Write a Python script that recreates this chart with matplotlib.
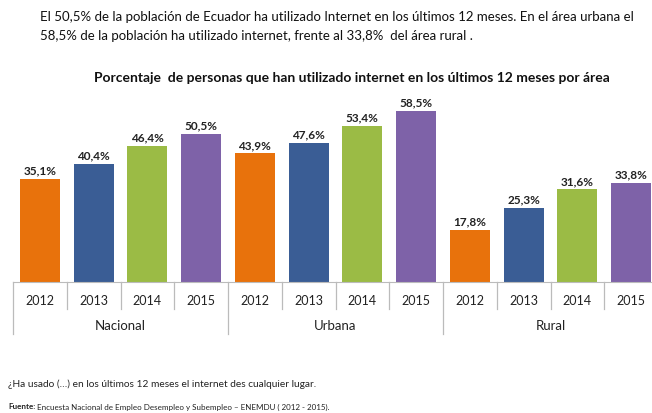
import matplotlib.pyplot as plt

areas = ["Nacional", "Urbana", "Rural"]
years = ["2012", "2013", "2014", "2015"]
nacional = [35.1, 40.4, 46.4, 50.5]
urbana = [43.9, 47.6, 53.4, 58.5]
rural = [17.8, 25.3, 31.6, 33.8]
colores = ["#E8720C", "#3A5D95", "#9BBB45", "#7E62A8"]

plt.rcParams["font.family"] = ["Lato", "DejaVu Sans"]

W, H = 652, 414
fig = plt.figure(figsize=(W / 100, H / 100), dpi=100)
# axes placed in pixel terms: left 13, baseline at y=283, right edge beyond the image
ax = fig.add_axes([13 / W, (H - 283) / H, 645 / W, 205 / H])

valores = nacional + urbana + rural
x = list(range(len(valores)))
cols = colores * 3
ax.bar(x, valores, width=0.74, color=cols, zorder=2)
for xi, v in zip(x, valores):
    ax.text(xi, v + 1.2, f"{v:.1f}%".replace(".", ","), ha="center", va="bottom",
            fontsize=8.5, fontweight="bold", color="#222222")

ax.set_xlim(-0.5, 11.5)
ax.set_ylim(0, 70)
for s in ["top", "right", "left"]:
    ax.spines[s].set_visible(False)
ax.spines["bottom"].set_color("#BBBBBB")
ax.set_yticks([])
ax.set_xticks([])

# category separators
for i in range(13):
    largo = -17.7 if i % 4 == 0 else -9.2
    ax.plot([i - 0.5, i - 0.5], [0, largo], color="#BBBBBB", lw=0.9, clip_on=False)
for xi in x:
    ax.text(xi, -6.3, years[xi % 4], ha="center", va="center", fontsize=9, color="#222222")
for g, area in enumerate(areas):
    ax.text(g * 4 + 1.5, -14.8, area, ha="center", va="center", fontsize=9.5, color="#222222")

fig.text(40 / W, 1 - 17 / H, "El 50,5% de la población de Ecuador ha utilizado Internet en los últimos 12 meses. En el área urbana el",
         fontsize=9.5, va="center", color="#111111")
fig.text(40 / W, 1 - 36 / H, "58,5% de la población ha utilizado internet, frente al 33,8%  del área rural .",
         fontsize=9.5, va="center", color="#111111")
fig.text(352 / W, 1 - 78 / H, "Porcentaje  de personas que han utilizado internet en los últimos 12 meses por área",
         fontsize=10, fontweight="bold", ha="center", va="center", color="#111111")
fig.text(8 / W, 1 - 384 / H, "¿Ha usado (…) en los últimos 12 meses el internet des cualquier lugar.",
         fontsize=7.3, va="center", color="#222222")
t = fig.text(8 / W, 1 - 407 / H, "Fuente:", fontsize=5.8, fontweight="bold", va="center", color="#222222")
ax.annotate(" Encuesta Nacional de Empleo Desempleo y Subempleo – ENEMDU ( 2012 - 2015).",
            xy=(1, 0.5), xycoords=t, va="center", ha="left", fontsize=5.8,
            color="#222222", annotation_clip=False)

fig.savefig("out.png", dpi=100)
